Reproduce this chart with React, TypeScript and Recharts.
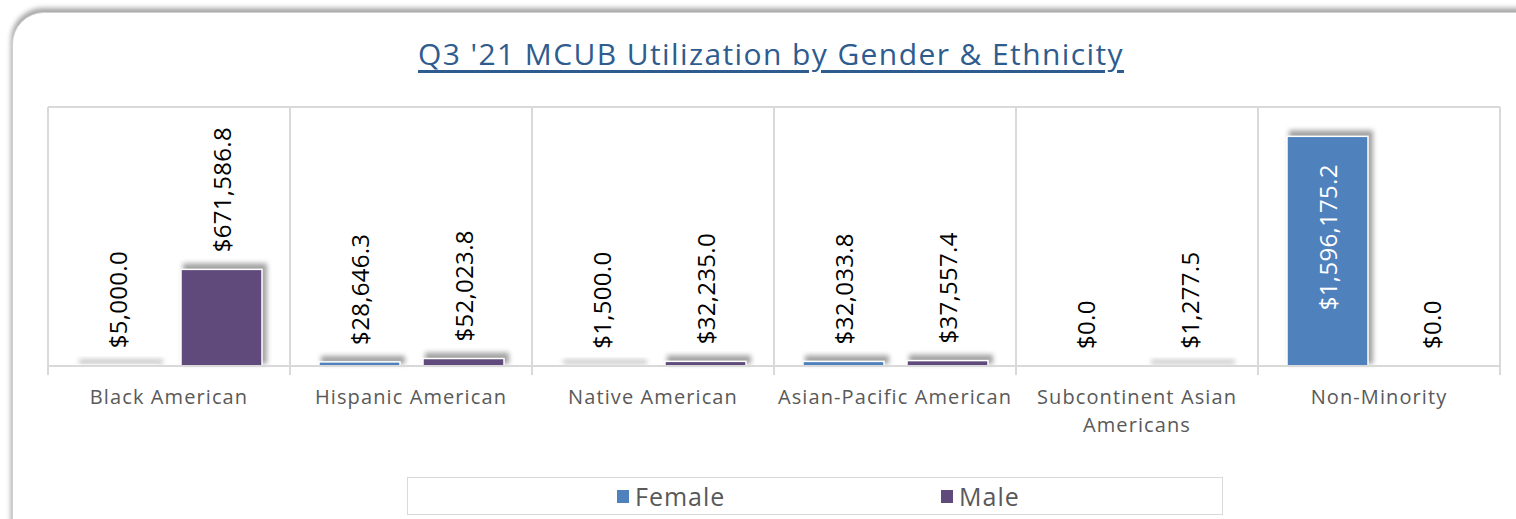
import React from 'react';
import { BarChart, Bar, XAxis, YAxis, CartesianGrid, LabelList } from 'recharts';

const categories = [
  'Black American',
  'Hispanic American',
  'Native American',
  'Asian-Pacific American',
  'Subcontinent Asian Americans',
  'Non-Minority',
];
const femaleValues = [5000.0, 28646.3, 1500.0, 32033.8, 0.0, 1596175.2];
const maleValues = [671586.8, 52023.8, 32235.0, 37557.4, 1277.5, 0.0];
const yTicks = [0, 1800000];

const data = categories.map((name, i) => ({
  name,
  female: femaleValues[i],
  male: maleValues[i],
}));

const W = 1516;
const H = 519;
const FONT = '"Open Sans", "DejaVu Sans", sans-serif';

const fmt = (v: number) =>
  `$${v.toLocaleString('en-US', { minimumFractionDigits: 1, maximumFractionDigits: 1 })}`;

const ShadowBar = (props: any) => {
  const { x, y, width, height, fill, value } = props;
  const h = Math.max(height || 0, 0);
  const v = Array.isArray(value) ? value[1] - value[0] : value;
  if (!v) return null;
  return (
    <g>
      <rect
        x={x + 2}
        y={y - 6}
        width={width + 3}
        height={h + 4}
        fill="#7a7a7a"
        opacity={h > 2 ? 0.7 : 0.45}
        filter="url(#barShadow)"
      />
      {h > 0 && <rect x={x} y={y} width={width} height={h} fill={fill} stroke="#ffffff" strokeWidth={1.5} />}
    </g>
  );
};

const renderValue = (props: any) => {
  const { x, y, width, value } = props;
  const cx = x + width / 2;
  const inside = value > 1000000;
  const ty = inside ? y + 28 : y - 17;
  return (
    <text
      x={cx}
      y={ty}
      transform={`rotate(-90, ${cx}, ${ty})`}
      textAnchor={inside ? 'end' : 'start'}
      dominantBaseline="central"
      fontSize={24}
      letterSpacing={0.3}
      fontFamily={FONT}
      fill={inside ? '#ffffff' : '#000000'}
    >
      {fmt(value)}
    </text>
  );
};

const wrapLabel = (s: string, max: number) => {
  const lines: string[] = [];
  let cur = '';
  s.split(' ').forEach((w) => {
    const t = cur ? cur + ' ' + w : w;
    if (t.length > max && cur) {
      lines.push(cur);
      cur = w;
    } else cur = t;
  });
  if (cur) lines.push(cur);
  return lines;
};

const CategoryTick = (props: any) => {
  const { x, y, payload, bandSize } = props;
  const lines = wrapLabel(payload.value, 22);
  const half = (bandSize || 0) / 2;
  return (
    <g>
      <line x1={x - half} x2={x - half} y1={y - 8} y2={y + 1} stroke="#d9d9d9" strokeWidth={2} />
      <line x1={x + half} x2={x + half} y1={y - 8} y2={y + 1} stroke="#d9d9d9" strokeWidth={2} />
      {lines.map((l, i) => (
        <text
          key={i}
          x={x}
          y={y + 30 + i * 28}
          textAnchor="middle"
          fontSize={20}
          letterSpacing={1.1}
          fontFamily={FONT}
          fill="#595959"
        >
          {l}
        </text>
      ))}
    </g>
  );
};

const App = () => {
  return (
    <div style={{ position: 'fixed', left: 0, top: 0, width: W, height: H, overflow: 'hidden', background: '#fff' }}>
      <div
        style={{
          position: 'absolute',
          left: 12,
          top: 12,
          width: W + 40,
          height: H + 40,
          border: '1px solid #d0d0d0',
          borderRadius: 32,
          boxShadow: '-1px -4px 5px rgba(0,0,0,0.35)',
          background: '#fff',
        }}
      />
      <div
        style={{
          position: 'absolute',
          left: 0,
          top: 33,
          width: 1542,
          textAlign: 'center',
          fontFamily: FONT,
          fontSize: 30,
          letterSpacing: 1.4,
          color: '#2e5c8f',
          textDecoration: 'underline',
          textUnderlineOffset: 5,
        }}
      >
        Q3 '21 MCUB Utilization by Gender &amp; Ethnicity
      </div>
      <div style={{ position: 'absolute', left: 0, top: 0 }}>
        <BarChart
          width={W}
          height={H}
          data={data}
          margin={{ top: 107, right: 16, left: 48, bottom: 93 }}
          barGap={23}
          barSize={81}
        >
          <defs>
            <filter id="barShadow" x="-20%" y="-50%" width="140%" height="200%">
              <feGaussianBlur stdDeviation="2.5" />
            </filter>
          </defs>
          <CartesianGrid
            stroke="#d9d9d9"
            strokeWidth={2}
            verticalCoordinatesGenerator={({ offset }: any) =>
              categories.map((_, i) => offset.left + (i * offset.width) / categories.length).concat(offset.left + offset.width)
            }
          />
          <XAxis
            dataKey="name"
            interval={0}
            height={60}
            axisLine={{ stroke: '#d9d9d9', strokeWidth: 2 }}
            tickLine={false}
            tick={(p: any) => <CategoryTick {...p} bandSize={(W - 48 - 16) / categories.length} />}
          />
          <YAxis hide domain={[0, 1800000]} ticks={yTicks} />
          <Bar dataKey="female" name="Female" fill="#4f81bd" shape={<ShadowBar />} isAnimationActive={false}>
            <LabelList dataKey="female" content={renderValue} />
          </Bar>
          <Bar dataKey="male" name="Male" fill="#604a7b" shape={<ShadowBar />} isAnimationActive={false}>
            <LabelList dataKey="male" content={renderValue} />
          </Bar>
        </BarChart>
      </div>
      <div
        style={{
          position: 'absolute',
          left: 407,
          top: 477,
          width: 816,
          height: 38,
          border: '1px solid #d9d9d9',
          boxSizing: 'border-box',
          fontFamily: FONT,
          fontSize: 25,
          letterSpacing: 1,
          color: '#595959',
        }}
      >
        {[
          { label: 'Female', color: '#4f81bd', left: 209 },
          { label: 'Male', color: '#604a7b', left: 533 },
        ].map((it) => (
          <div key={it.label} style={{ position: 'absolute', left: it.left, top: 1, display: 'flex', alignItems: 'center', height: 34 }}>
            <span style={{ display: 'inline-block', width: 12, height: 13, background: it.color, marginRight: 6 }} />
            <span>{it.label}</span>
          </div>
        ))}
      </div>
    </div>
  );
};

export default App;
